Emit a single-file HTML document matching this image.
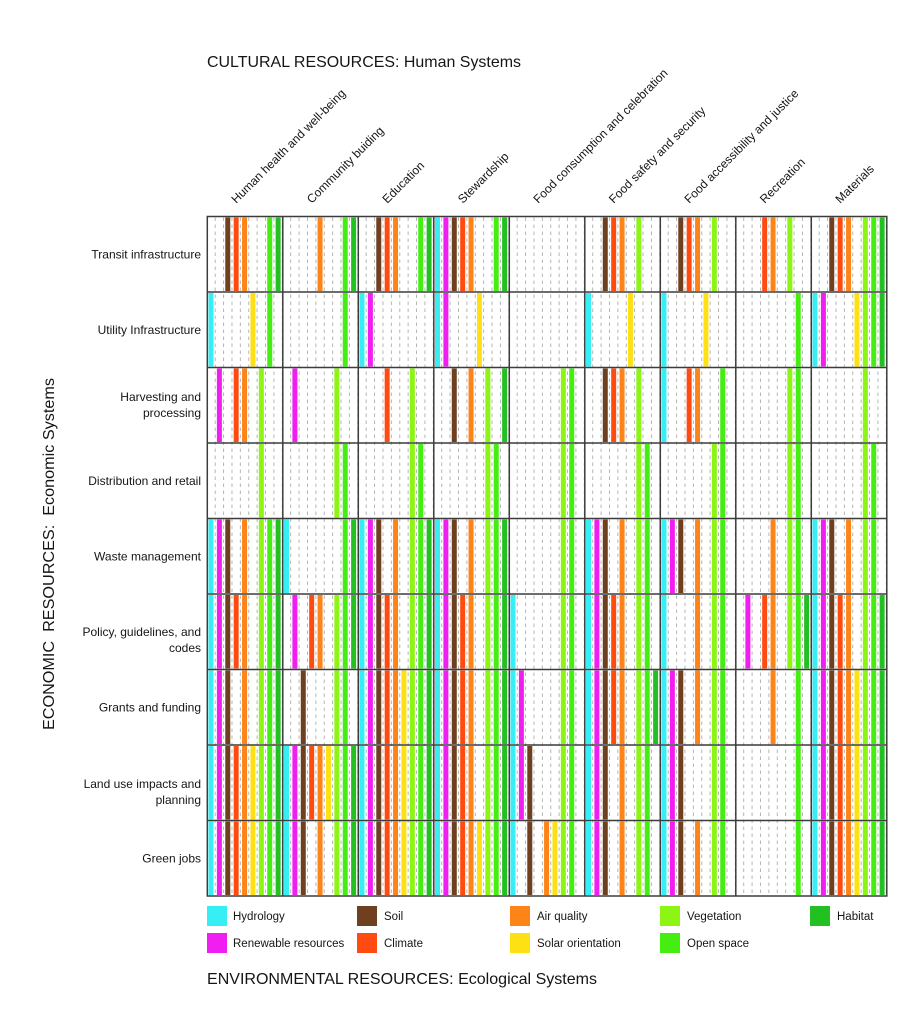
<!DOCTYPE html>
<html><head><meta charset="utf-8"><style>
html,body{margin:0;padding:0;background:#fff;width:899px;height:1024px;overflow:hidden}
svg{display:block}
text{font-family:"Liberation Sans",Arial,sans-serif;fill:#151515}
</style></head><body>
<svg width="899" height="1024" viewBox="0 0 899 1024" xmlns="http://www.w3.org/2000/svg">
<defs>
<pattern id="dash" patternUnits="userSpaceOnUse" x="214.7" y="216.5" width="8.389" height="7">
<line x1="0.5" y1="1" x2="0.5" y2="4.5" stroke="#b4b4b4" stroke-width="1"/>
</pattern>
<rect id="s0" x="1.2" y="1" width="5" height="73.5" fill="#38eef5"/>
<rect id="s1" x="9.59" y="1" width="5" height="73.5" fill="#f01ef0"/>
<rect id="s2" x="17.98" y="1" width="5" height="73.5" fill="#6e4020"/>
<rect id="s3" x="26.37" y="1" width="5" height="73.5" fill="#ff4a10"/>
<rect id="s4" x="34.76" y="1" width="5" height="73.5" fill="#ff8418"/>
<rect id="s5" x="43.15" y="1" width="5" height="73.5" fill="#ffe014"/>
<rect id="s6" x="51.54" y="1" width="5" height="73.5" fill="#8cf514"/>
<rect id="s7" x="59.93" y="1" width="5" height="73.5" fill="#44ee11"/>
<rect id="s8" x="68.32" y="1" width="5" height="73.5" fill="#22c020"/>
<g id="all"><use href="#s0"/><use href="#s1"/><use href="#s2"/><use href="#s3"/><use href="#s4"/><use href="#s5"/><use href="#s6"/><use href="#s7"/><use href="#s8"/></g>
</defs>

<!-- titles -->
<text x="207" y="67" font-size="16" textLength="314" lengthAdjust="spacingAndGlyphs">CULTURAL RESOURCES: Human Systems</text>
<text x="207" y="984" font-size="16" textLength="390" lengthAdjust="spacingAndGlyphs">ENVIRONMENTAL RESOURCES: Ecological Systems</text>
<text transform="translate(54,554) rotate(-90)" text-anchor="middle" font-size="16" textLength="352" lengthAdjust="spacingAndGlyphs">ECONOMIC&#160; RESOURCES:&#160; Economic Systems</text>

<!-- column labels -->
<g font-size="12">
<text transform="translate(236.3,204) rotate(-45)">Human health and well-being</text>
<text transform="translate(311.8,204) rotate(-45)">Community buiding</text>
<text transform="translate(387.3,204) rotate(-45)">Education</text>
<text transform="translate(462.8,204) rotate(-45)">Stewardship</text>
<text transform="translate(538.3,204) rotate(-45)">Food consumption and celebration</text>
<text transform="translate(613.8,204) rotate(-45)">Food safety and security</text>
<text transform="translate(689.3,204) rotate(-45)">Food accessibility and justice</text>
<text transform="translate(764.8,204) rotate(-45)">Recreation</text>
<text transform="translate(840.3,204) rotate(-45)">Materials</text>
</g>

<!-- row labels -->
<g font-size="12" text-anchor="end">
<text x="201" y="258.5">Transit infrastructure</text>
<text x="201" y="334">Utility Infrastructure</text>
<text x="201" y="401">Harvesting and</text>
<text x="201" y="417">processing</text>
<text x="201" y="485">Distribution and retail</text>
<text x="201" y="560.5">Waste management</text>
<text x="201" y="636">Policy, guidelines, and</text>
<text x="201" y="652">codes</text>
<text x="201" y="711.5">Grants and funding</text>
<text x="201" y="788">Land use impacts and</text>
<text x="201" y="804">planning</text>
<text x="201" y="862.5">Green jobs</text>
</g>

<!-- dashed background -->
<rect x="207.3" y="216.5" width="679.5" height="679.5" fill="url(#dash)"/>

<!-- Row 1 -->
<g transform="translate(207.3,216.5)"><use href="#s2"/><use href="#s3"/><use href="#s4"/><use href="#s7"/><use href="#s8"/></g>
<g transform="translate(282.8,216.5)"><use href="#s4"/><use href="#s7"/><use href="#s8"/></g>
<g transform="translate(358.3,216.5)"><use href="#s2"/><use href="#s3"/><use href="#s4"/><use href="#s7"/><use href="#s8"/></g>
<g transform="translate(433.8,216.5)"><use href="#s0"/><use href="#s1"/><use href="#s2"/><use href="#s3"/><use href="#s4"/><use href="#s7"/><use href="#s8"/></g>
<g transform="translate(584.8,216.5)"><use href="#s2"/><use href="#s3"/><use href="#s4"/><use href="#s6"/></g>
<g transform="translate(660.3,216.5)"><use href="#s2"/><use href="#s3"/><use href="#s4"/><use href="#s6"/></g>
<g transform="translate(735.8,216.5)"><use href="#s3"/><use href="#s4"/><use href="#s6"/></g>
<g transform="translate(811.3,216.5)"><use href="#s2"/><use href="#s3"/><use href="#s4"/><use href="#s6"/><use href="#s7"/><use href="#s8"/></g>

<!-- Row 2 -->
<g transform="translate(207.3,292)"><use href="#s0"/><use href="#s5"/><use href="#s7"/></g>
<g transform="translate(282.8,292)"><use href="#s7"/></g>
<g transform="translate(358.3,292)"><use href="#s0"/><use href="#s1"/></g>
<g transform="translate(433.8,292)"><use href="#s0"/><use href="#s1"/><use href="#s5"/></g>
<g transform="translate(584.8,292)"><use href="#s0"/><use href="#s5"/></g>
<g transform="translate(660.3,292)"><use href="#s0"/><use href="#s5"/></g>
<g transform="translate(735.8,292)"><use href="#s7"/></g>
<g transform="translate(811.3,292)"><use href="#s0"/><use href="#s1"/><use href="#s5"/><use href="#s6"/><use href="#s7"/><use href="#s8"/></g>

<!-- Row 3 -->
<g transform="translate(207.3,367.5)"><use href="#s1"/><use href="#s3"/><use href="#s4"/><use href="#s6"/></g>
<g transform="translate(282.8,367.5)"><use href="#s1"/><use href="#s6"/></g>
<g transform="translate(358.3,367.5)"><use href="#s3"/><use href="#s6"/></g>
<g transform="translate(433.8,367.5)"><use href="#s2"/><use href="#s4"/><use href="#s6"/><use href="#s8"/></g>
<g transform="translate(509.3,367.5)"><use href="#s6"/><use href="#s7"/></g>
<g transform="translate(584.8,367.5)"><use href="#s2"/><use href="#s3"/><use href="#s4"/><use href="#s6"/></g>
<g transform="translate(660.3,367.5)"><use href="#s0"/><use href="#s3"/><use href="#s4"/><use href="#s7"/></g>
<g transform="translate(735.8,367.5)"><use href="#s6"/><use href="#s7"/></g>
<g transform="translate(811.3,367.5)"><use href="#s6"/></g>

<!-- Row 4 -->
<g transform="translate(207.3,443)"><use href="#s6"/></g>
<g transform="translate(282.8,443)"><use href="#s6"/><use href="#s7"/></g>
<g transform="translate(358.3,443)"><use href="#s6"/><use href="#s7"/></g>
<g transform="translate(433.8,443)"><use href="#s6"/><use href="#s7"/></g>
<g transform="translate(509.3,443)"><use href="#s6"/><use href="#s7"/></g>
<g transform="translate(584.8,443)"><use href="#s6"/><use href="#s7"/></g>
<g transform="translate(660.3,443)"><use href="#s6"/><use href="#s7"/></g>
<g transform="translate(735.8,443)"><use href="#s6"/><use href="#s7"/></g>
<g transform="translate(811.3,443)"><use href="#s6"/><use href="#s7"/></g>

<!-- Row 5 -->
<g transform="translate(207.3,518.5)"><use href="#s0"/><use href="#s1"/><use href="#s2"/><use href="#s4"/><use href="#s6"/><use href="#s7"/><use href="#s8"/></g>
<g transform="translate(282.8,518.5)"><use href="#s0"/><use href="#s7"/><use href="#s8"/></g>
<g transform="translate(358.3,518.5)"><use href="#s0"/><use href="#s1"/><use href="#s2"/><use href="#s4"/><use href="#s6"/><use href="#s7"/><use href="#s8"/></g>
<g transform="translate(433.8,518.5)"><use href="#s0"/><use href="#s1"/><use href="#s2"/><use href="#s4"/><use href="#s6"/><use href="#s7"/><use href="#s8"/></g>
<g transform="translate(509.3,518.5)"><use href="#s6"/><use href="#s7"/></g>
<g transform="translate(584.8,518.5)"><use href="#s0"/><use href="#s1"/><use href="#s2"/><use href="#s4"/><use href="#s6"/><use href="#s7"/></g>
<g transform="translate(660.3,518.5)"><use href="#s0"/><use href="#s1"/><use href="#s2"/><use href="#s4"/><use href="#s6"/><use href="#s7"/></g>
<g transform="translate(735.8,518.5)"><use href="#s4"/><use href="#s6"/><use href="#s7"/></g>
<g transform="translate(811.3,518.5)"><use href="#s0"/><use href="#s1"/><use href="#s2"/><use href="#s4"/><use href="#s6"/><use href="#s7"/></g>

<!-- Row 6 -->
<g transform="translate(207.3,594)"><use href="#s0"/><use href="#s1"/><use href="#s2"/><use href="#s3"/><use href="#s4"/><use href="#s6"/><use href="#s7"/><use href="#s8"/></g>
<g transform="translate(282.8,594)"><use href="#s1"/><use href="#s3"/><use href="#s4"/><use href="#s6"/><use href="#s7"/><use href="#s8"/></g>
<g transform="translate(358.3,594)"><use href="#s0"/><use href="#s1"/><use href="#s2"/><use href="#s3"/><use href="#s4"/><use href="#s6"/><use href="#s7"/><use href="#s8"/></g>
<g transform="translate(433.8,594)"><use href="#s0"/><use href="#s1"/><use href="#s2"/><use href="#s3"/><use href="#s4"/><use href="#s6"/><use href="#s7"/><use href="#s8"/></g>
<g transform="translate(509.3,594)"><use href="#s0"/><use href="#s6"/><use href="#s7"/></g>
<g transform="translate(584.8,594)"><use href="#s0"/><use href="#s1"/><use href="#s2"/><use href="#s3"/><use href="#s4"/><use href="#s6"/><use href="#s7"/></g>
<g transform="translate(660.3,594)"><use href="#s0"/><use href="#s4"/><use href="#s6"/><use href="#s7"/></g>
<g transform="translate(735.8,594)"><use href="#s1"/><use href="#s3"/><use href="#s4"/><use href="#s6"/><use href="#s7"/><use href="#s8"/></g>
<g transform="translate(811.3,594)"><use href="#s0"/><use href="#s1"/><use href="#s2"/><use href="#s3"/><use href="#s4"/><use href="#s6"/><use href="#s7"/><use href="#s8"/></g>

<!-- Row 7 -->
<g transform="translate(207.3,669.5)"><use href="#s0"/><use href="#s1"/><use href="#s2"/><use href="#s4"/><use href="#s6"/><use href="#s7"/><use href="#s8"/></g>
<g transform="translate(282.8,669.5)"><use href="#s2"/><use href="#s6"/><use href="#s7"/></g>
<g transform="translate(358.3,669.5)"><use href="#all"/></g>
<g transform="translate(433.8,669.5)"><use href="#s0"/><use href="#s1"/><use href="#s2"/><use href="#s3"/><use href="#s4"/><use href="#s6"/><use href="#s7"/><use href="#s8"/></g>
<g transform="translate(509.3,669.5)"><use href="#s0"/><use href="#s1"/><use href="#s6"/><use href="#s7"/></g>
<g transform="translate(584.8,669.5)"><use href="#s0"/><use href="#s1"/><use href="#s2"/><use href="#s3"/><use href="#s4"/><use href="#s6"/><use href="#s7"/><use href="#s8"/></g>
<g transform="translate(660.3,669.5)"><use href="#s0"/><use href="#s1"/><use href="#s2"/><use href="#s4"/><use href="#s6"/><use href="#s7"/></g>
<g transform="translate(735.8,669.5)"><use href="#s4"/><use href="#s7"/></g>
<g transform="translate(811.3,669.5)"><use href="#all"/></g>

<!-- Row 8 -->
<g transform="translate(207.3,745)"><use href="#all"/></g>
<g transform="translate(282.8,745)"><use href="#all"/></g>
<g transform="translate(358.3,745)"><use href="#all"/></g>
<g transform="translate(433.8,745)"><use href="#s0"/><use href="#s1"/><use href="#s2"/><use href="#s3"/><use href="#s4"/><use href="#s6"/><use href="#s7"/><use href="#s8"/></g>
<g transform="translate(509.3,745)"><use href="#s0"/><use href="#s1"/><use href="#s2"/><use href="#s6"/><use href="#s7"/></g>
<g transform="translate(584.8,745)"><use href="#s0"/><use href="#s1"/><use href="#s2"/><use href="#s4"/><use href="#s6"/><use href="#s7"/></g>
<g transform="translate(660.3,745)"><use href="#s0"/><use href="#s1"/><use href="#s2"/><use href="#s6"/><use href="#s7"/></g>
<g transform="translate(735.8,745)"><use href="#s7"/></g>
<g transform="translate(811.3,745)"><use href="#all"/></g>

<!-- Row 9 -->
<g transform="translate(207.3,820.5)"><use href="#all"/></g>
<g transform="translate(282.8,820.5)"><use href="#s0"/><use href="#s1"/><use href="#s2"/><use href="#s4"/><use href="#s6"/><use href="#s7"/><use href="#s8"/></g>
<g transform="translate(358.3,820.5)"><use href="#all"/></g>
<g transform="translate(433.8,820.5)"><use href="#all"/></g>
<g transform="translate(509.3,820.5)"><use href="#s0"/><use href="#s2"/><use href="#s4"/><use href="#s5"/><use href="#s6"/><use href="#s7"/></g>
<g transform="translate(584.8,820.5)"><use href="#s0"/><use href="#s1"/><use href="#s2"/><use href="#s4"/><use href="#s6"/><use href="#s7"/></g>
<g transform="translate(660.3,820.5)"><use href="#s0"/><use href="#s1"/><use href="#s2"/><use href="#s4"/><use href="#s6"/><use href="#s7"/></g>
<g transform="translate(735.8,820.5)"><use href="#s7"/></g>
<g transform="translate(811.3,820.5)"><use href="#all"/></g>

<!-- grid lines -->
<g stroke="#3c3c3c" stroke-width="1.5" fill="none">
<rect x="207.3" y="216.5" width="679.5" height="679.5"/>
<path d="M282.8 216.5V896M358.3 216.5V896M433.8 216.5V896M509.3 216.5V896M584.8 216.5V896M660.3 216.5V896M735.8 216.5V896M811.3 216.5V896"/>
<path d="M207.3 292H886.8M207.3 367.5H886.8M207.3 443H886.8M207.3 518.5H886.8M207.3 594H886.8M207.3 669.5H886.8M207.3 745H886.8M207.3 820.5H886.8"/>
</g>

<!-- legend -->
<rect x="207" y="906" width="20" height="20" fill="#38eef5"/>
<rect x="357" y="906" width="20" height="20" fill="#6e4020"/>
<rect x="510" y="906" width="20" height="20" fill="#ff8418"/>
<rect x="660" y="906" width="20" height="20" fill="#8cf514"/>
<rect x="810" y="906" width="20" height="20" fill="#22c020"/>
<rect x="207" y="933" width="20" height="20" fill="#f01ef0"/>
<rect x="357" y="933" width="20" height="20" fill="#ff4a10"/>
<rect x="510" y="933" width="20" height="20" fill="#ffe014"/>
<rect x="660" y="933" width="20" height="20" fill="#44ee11"/>
<g font-size="11.5">
<text x="233" y="920">Hydrology</text>
<text x="384" y="920">Soil</text>
<text x="537" y="920">Air quality</text>
<text x="687" y="920">Vegetation</text>
<text x="837" y="920">Habitat</text>
<text x="233" y="947">Renewable resources</text>
<text x="384" y="947">Climate</text>
<text x="537" y="947">Solar orientation</text>
<text x="687" y="947">Open space</text>
</g>
</svg>
</body></html>
